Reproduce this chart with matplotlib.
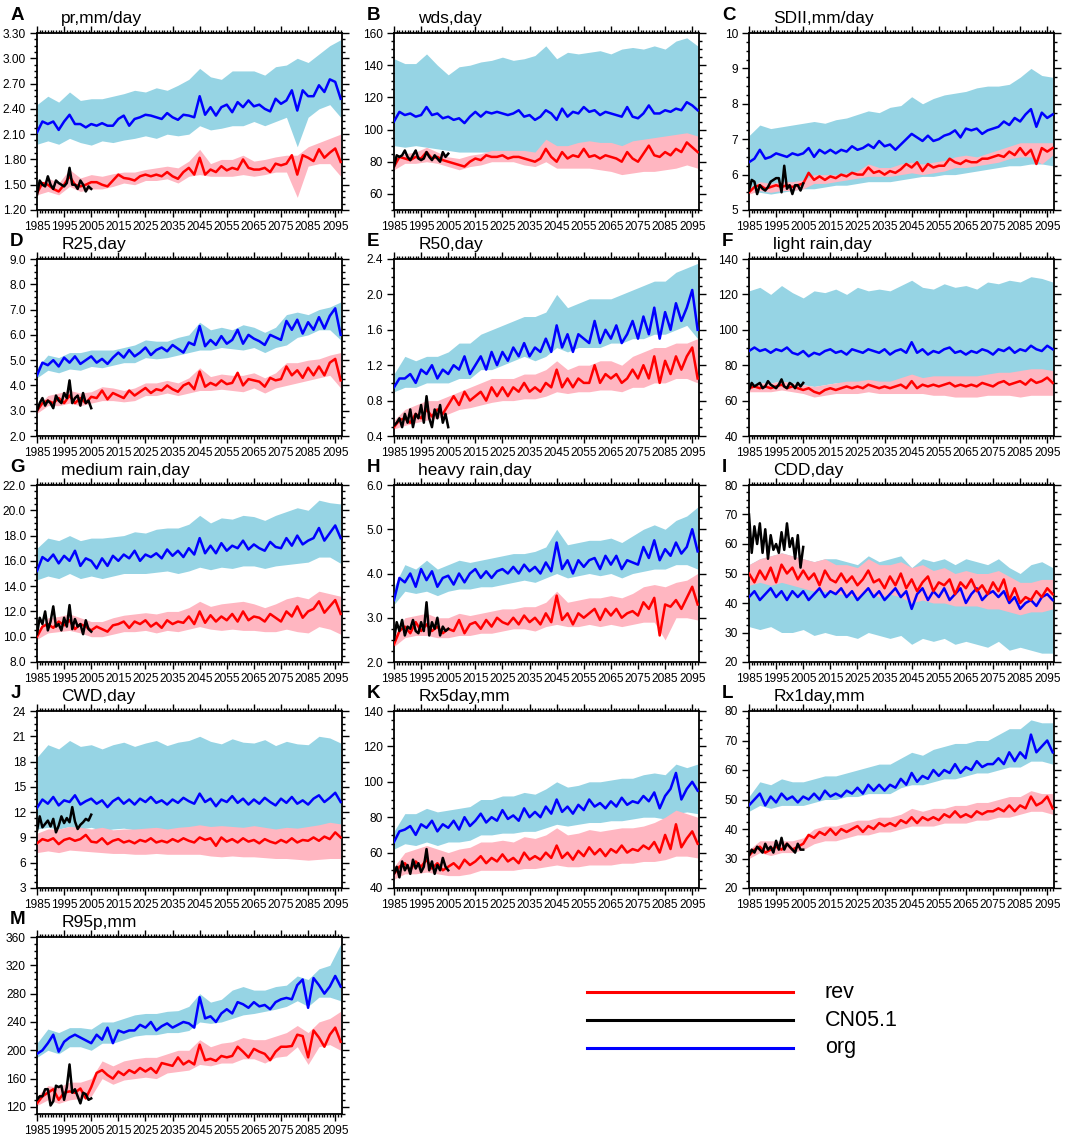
import numpy as np
import matplotlib
matplotlib.use('Agg')
import matplotlib.pyplot as plt
from matplotlib.ticker import MultipleLocator, AutoMinorLocator, FormatStrFormatter
from matplotlib.lines import Line2D

plt.rcParams['font.family'] = ['Liberation Sans', 'DejaVu Sans']

# model lines every 2 years, model spread every 4 years, CN05.1 yearly
YEARS_LINE = list(range(1985, 2098, 2))
YEARS_BAND = list(range(1985, 2098, 4))
YEARS_OBS = list(range(1985, 2006))

# ---- A: pr, mm/day
a_org = [2.12, 2.25, 2.22, 2.25, 2.15, 2.25, 2.33, 2.22, 2.22, 2.18,
         2.22, 2.20, 2.23, 2.20, 2.20, 2.28, 2.32, 2.20, 2.28, 2.30,
         2.33, 2.32, 2.30, 2.28, 2.35, 2.30, 2.27, 2.33, 2.32, 2.30,
         2.55, 2.33, 2.42, 2.32, 2.42, 2.45, 2.36, 2.48, 2.42, 2.50,
         2.43, 2.45, 2.40, 2.37, 2.52, 2.46, 2.50, 2.62, 2.38, 2.62,
         2.55, 2.55, 2.68, 2.60, 2.75, 2.72, 2.52]
a_org_hi = [2.45, 2.55, 2.48, 2.60, 2.50, 2.52, 2.52, 2.55, 2.58, 2.62,
            2.60, 2.65, 2.62, 2.68, 2.75, 2.88, 2.78, 2.75, 2.85, 2.85,
            2.85, 2.80, 2.90, 2.92, 3.00, 2.95, 3.05, 3.15, 3.22]
a_org_lo = [1.98, 2.02, 1.98, 2.05, 2.00, 1.97, 2.02, 2.00, 2.03, 2.05,
            2.08, 2.05, 2.10, 2.08, 2.10, 2.20, 2.15, 2.17, 2.20, 2.20,
            2.25, 2.20, 2.25, 2.30, 1.95, 2.30, 2.40, 2.45, 2.30]
a_rev = [1.40, 1.52, 1.50, 1.45, 1.42, 1.50, 1.60, 1.50, 1.48, 1.50,
         1.53, 1.53, 1.50, 1.48, 1.55, 1.62, 1.58, 1.57, 1.55, 1.60,
         1.62, 1.60, 1.62, 1.60, 1.65, 1.60, 1.57, 1.65, 1.70, 1.62,
         1.82, 1.62, 1.68, 1.65, 1.72, 1.67, 1.70, 1.68, 1.80, 1.70,
         1.68, 1.68, 1.70, 1.65, 1.75, 1.73, 1.75, 1.85, 1.62, 1.85,
         1.82, 1.78, 1.92, 1.82, 1.88, 1.93, 1.77]
a_rev_hi = [1.48, 1.58, 1.52, 1.68, 1.58, 1.62, 1.60, 1.63, 1.65, 1.65,
            1.68, 1.70, 1.72, 1.70, 1.78, 1.92, 1.75, 1.80, 1.80, 1.85,
            1.78, 1.80, 1.83, 1.85, 1.85, 1.95, 2.00, 2.05, 2.10]
a_rev_lo = [1.38, 1.42, 1.38, 1.48, 1.42, 1.45, 1.45, 1.48, 1.52, 1.50,
            1.55, 1.55, 1.57, 1.52, 1.60, 1.62, 1.60, 1.60, 1.60, 1.62,
            1.60, 1.62, 1.65, 1.65, 1.35, 1.72, 1.75, 1.75, 1.60]
a_obs = [1.38, 1.55, 1.50, 1.48, 1.60, 1.50, 1.45, 1.55, 1.52, 1.50,
         1.48, 1.52, 1.70, 1.50, 1.50, 1.45, 1.55, 1.50, 1.42, 1.48, 1.45]

# ---- B: wds, day
b_org = [105, 111, 109, 110, 108, 109, 114, 109, 110, 107,
         108, 106, 107, 104, 108, 111, 108, 111, 110, 111,
         110, 109, 110, 112, 108, 109, 106, 108, 112, 110,
         106, 113, 108, 111, 110, 114, 111, 112, 109, 111,
         110, 109, 108, 114, 108, 107, 110, 115, 110, 110,
         112, 111, 113, 112, 117, 115, 112]
b_org_hi = [144, 141, 141, 147, 140, 134, 139, 140, 142, 143,
            145, 143, 144, 146, 152, 144, 148, 147, 148, 149,
            147, 150, 151, 150, 152, 150, 155, 157, 152]
b_org_lo = [90, 89, 90, 89, 88, 87, 86, 86, 86, 86,
            86, 85, 86, 85, 86, 85, 86, 85, 86, 85,
            85, 86, 85, 86, 85, 86, 86, 86, 86]
b_rev = [77, 83, 82, 81, 83, 82, 86, 82, 83, 81,
         80, 79, 78, 77, 80, 82, 81, 84, 83, 83,
         84, 82, 83, 83, 82, 81, 80, 82, 88, 83,
         80, 86, 82, 84, 83, 88, 83, 84, 82, 84,
         83, 82, 80, 86, 82, 80, 85, 90, 84, 83,
         86, 84, 88, 86, 92, 89, 86]
b_rev_hi = [81, 85, 86, 89, 86, 83, 82, 84, 85, 87,
            87, 87, 87, 86, 94, 90, 90, 92, 93, 92,
            92, 90, 93, 94, 95, 96, 97, 98, 96]
b_rev_lo = [75, 79, 79, 80, 79, 77, 75, 77, 78, 80,
            80, 80, 78, 77, 80, 76, 76, 76, 76, 75,
            74, 72, 73, 74, 74, 75, 76, 78, 76]
b_obs = [77, 84, 83, 84, 87, 83, 81, 84, 87, 82,
         81, 82, 86, 83, 81, 84, 82, 80, 86, 83, 85]

# ---- C: SDII, mm/day
c_org = [6.35, 6.45, 6.70, 6.45, 6.50, 6.60, 6.55, 6.50, 6.60, 6.55,
         6.60, 6.75, 6.50, 6.70, 6.60, 6.70, 6.60, 6.70, 6.65, 6.80,
         6.70, 6.75, 6.85, 6.75, 6.95, 6.80, 6.85, 6.70, 6.85, 7.00,
         7.15, 7.05, 6.95, 7.10, 6.95, 7.00, 7.10, 7.15, 7.25, 7.05,
         7.30, 7.25, 7.30, 7.15, 7.25, 7.30, 7.35, 7.50, 7.40, 7.60,
         7.50, 7.70, 7.85, 7.35, 7.75, 7.60, 7.70]
c_org_hi = [7.10, 7.40, 7.30, 7.35, 7.40, 7.45, 7.50, 7.45, 7.55, 7.60,
            7.70, 7.80, 7.75, 7.90, 7.95, 8.20, 8.00, 8.15, 8.25, 8.30,
            8.35, 8.45, 8.50, 8.50, 8.55, 8.75, 9.00, 8.80, 8.75]
c_org_lo = [5.50, 5.50, 5.45, 5.50, 5.55, 5.60, 5.60, 5.65, 5.70, 5.70,
            5.75, 5.80, 5.80, 5.80, 5.85, 5.90, 5.95, 5.95, 6.00, 6.00,
            6.05, 6.10, 6.15, 6.20, 6.25, 6.25, 6.30, 6.30, 6.25]
c_rev = [5.50, 5.65, 5.70, 5.60, 5.65, 5.70, 5.65, 5.70, 5.65, 5.70,
         5.75, 6.05, 5.85, 5.95, 5.85, 5.95, 5.90, 6.00, 5.95, 6.05,
         6.00, 6.00, 6.20, 6.05, 6.10, 6.00, 6.10, 6.05, 6.15, 6.30,
         6.20, 6.35, 6.10, 6.30, 6.20, 6.25, 6.25, 6.45, 6.35, 6.30,
         6.40, 6.35, 6.35, 6.45, 6.45, 6.50, 6.55, 6.50, 6.65, 6.55,
         6.75, 6.55, 6.70, 6.30, 6.75, 6.65, 6.75]
c_rev_hi = [5.60, 5.80, 5.75, 5.80, 5.80, 5.85, 6.00, 6.00, 6.00, 6.05,
            6.10, 6.30, 6.20, 6.20, 6.30, 6.35, 6.30, 6.35, 6.40, 6.50,
            6.55, 6.50, 6.60, 6.70, 6.80, 6.90, 6.90, 6.90, 6.90]
c_rev_lo = [5.45, 5.55, 5.50, 5.55, 5.55, 5.60, 5.75, 5.75, 5.80, 5.85,
            5.90, 5.95, 5.95, 5.95, 6.00, 6.05, 6.00, 6.05, 6.10, 6.20,
            6.20, 6.25, 6.30, 6.35, 6.45, 6.50, 6.50, 6.30, 6.55]
c_obs = [5.55, 5.85, 5.80, 5.45, 5.70, 5.60, 5.55, 5.65, 5.80, 5.85,
         5.90, 5.90, 5.50, 6.25, 5.60, 5.70, 5.45, 5.70, 5.70, 5.55, 5.75]

# ---- D: R25, day
d_org = [4.40, 4.90, 4.80, 5.00, 4.75, 5.10, 4.90, 5.15, 4.85, 5.00,
         5.15, 4.90, 5.05, 4.85, 5.10, 5.30, 5.10, 5.40, 5.15, 5.30,
         5.50, 5.20, 5.40, 5.50, 5.35, 5.60, 5.45, 5.30, 5.70, 5.60,
         6.35, 5.55, 5.80, 5.60, 5.95, 5.65, 5.80, 6.20, 5.65, 6.00,
         5.85, 5.75, 5.60, 6.00, 5.90, 5.80, 6.55, 6.20, 6.60, 6.05,
         6.50, 6.20, 6.70, 6.25, 6.75, 7.05, 6.00]
d_org_hi = [4.70, 5.20, 5.10, 5.30, 5.30, 5.40, 5.40, 5.40, 5.50, 5.60,
            5.80, 5.75, 5.75, 5.90, 6.00, 6.50, 6.20, 6.30, 6.20, 6.40,
            6.30, 6.10, 6.30, 6.80, 6.90, 6.80, 7.00, 7.10, 7.30]
d_org_lo = [4.30, 4.60, 4.50, 4.65, 4.60, 4.75, 4.70, 4.80, 4.90, 4.90,
            5.10, 5.05, 5.10, 5.20, 5.30, 5.40, 5.40, 5.50, 5.45, 5.40,
            5.50, 5.30, 5.50, 5.60, 5.90, 6.00, 6.20, 6.20, 5.80]
d_rev = [3.00, 3.30, 3.40, 3.30, 3.50, 3.30, 3.60, 3.30, 3.50, 3.30,
         3.55, 3.50, 3.80, 3.45, 3.70, 3.60, 3.50, 3.80, 3.60, 3.75,
         3.90, 3.70, 3.85, 3.80, 4.00, 3.85, 3.75, 4.00, 4.10, 3.85,
         4.55, 3.95, 4.10, 4.00, 4.20, 4.05, 4.10, 4.50, 4.00, 4.25,
         4.20, 4.15, 3.95, 4.30, 4.20, 4.25, 4.75, 4.40, 4.60, 4.30,
         4.70, 4.40, 4.75, 4.40, 4.90, 5.05, 4.20]
d_rev_hi = [3.15, 3.60, 3.70, 3.80, 3.70, 3.75, 3.95, 3.90, 3.80, 3.90,
            4.10, 4.10, 4.20, 4.10, 4.30, 4.70, 4.35, 4.45, 4.40, 4.40,
            4.50, 4.30, 4.50, 4.90, 4.90, 5.00, 5.05, 5.20, 5.30]
d_rev_lo = [2.90, 3.20, 3.20, 3.30, 3.20, 3.30, 3.40, 3.40, 3.35, 3.40,
            3.60, 3.60, 3.70, 3.60, 3.70, 3.80, 3.80, 3.85, 3.80, 3.75,
            3.90, 3.70, 3.90, 4.00, 4.10, 4.20, 4.30, 4.40, 3.90]
d_obs = [3.00, 3.30, 3.50, 3.20, 3.40, 3.30, 3.10, 3.60, 3.40, 3.30,
         3.70, 3.50, 4.20, 3.30, 3.50, 3.60, 3.20, 3.70, 3.30, 3.40, 3.10]

# ---- E: R50, day
e_org = [0.95, 1.05, 1.05, 1.10, 1.00, 1.15, 1.10, 1.20, 1.05, 1.15,
         1.10, 1.20, 1.15, 1.30, 1.10, 1.20, 1.30, 1.15, 1.35, 1.20,
         1.35, 1.25, 1.40, 1.30, 1.45, 1.30, 1.40, 1.35, 1.50, 1.35,
         1.65, 1.40, 1.55, 1.35, 1.55, 1.50, 1.45, 1.70, 1.45, 1.60,
         1.50, 1.65, 1.45, 1.55, 1.70, 1.50, 1.75, 1.55, 1.85, 1.50,
         1.80, 1.60, 1.90, 1.70, 1.85, 2.05, 1.60]
e_org_hi = [1.10, 1.30, 1.25, 1.30, 1.30, 1.35, 1.45, 1.45, 1.55, 1.60,
            1.65, 1.70, 1.75, 1.75, 1.80, 2.00, 1.85, 1.90, 1.95, 1.95,
            1.95, 2.00, 2.05, 2.10, 2.15, 2.15, 2.25, 2.30, 2.35]
e_org_lo = [0.90, 0.95, 0.95, 1.00, 1.00, 1.00, 1.05, 1.05, 1.15, 1.15,
            1.20, 1.25, 1.30, 1.25, 1.30, 1.40, 1.35, 1.40, 1.40, 1.40,
            1.45, 1.45, 1.50, 1.50, 1.55, 1.55, 1.60, 1.65, 1.50]
e_rev = [0.50, 0.58, 0.60, 0.55, 0.65, 0.60, 0.70, 0.62, 0.70, 0.65,
         0.75, 0.85, 0.75, 0.90, 0.80, 0.85, 0.90, 0.80, 0.95, 0.85,
         0.95, 0.85, 0.95, 0.90, 1.00, 0.90, 0.95, 0.90, 1.00, 0.95,
         1.15, 0.95, 1.05, 0.95, 1.05, 1.00, 1.00, 1.20, 1.00, 1.10,
         1.05, 1.10, 1.00, 1.05, 1.15, 1.05, 1.20, 1.05, 1.30, 1.00,
         1.25, 1.10, 1.30, 1.15, 1.30, 1.40, 1.05]
e_rev_hi = [0.58, 0.70, 0.75, 0.80, 0.80, 0.85, 0.90, 0.95, 1.00, 1.05,
            1.05, 1.05, 1.10, 1.10, 1.15, 1.25, 1.15, 1.20, 1.20, 1.25,
            1.25, 1.20, 1.30, 1.35, 1.40, 1.40, 1.45, 1.45, 1.50]
e_rev_lo = [0.48, 0.52, 0.55, 0.58, 0.60, 0.65, 0.70, 0.72, 0.75, 0.78,
            0.80, 0.80, 0.82, 0.82, 0.85, 0.90, 0.88, 0.90, 0.90, 0.92,
            0.92, 0.90, 0.95, 0.95, 1.00, 1.00, 1.05, 1.05, 1.00]
e_obs = [0.52, 0.55, 0.60, 0.50, 0.65, 0.55, 0.70, 0.50, 0.65, 0.60,
         0.75, 0.55, 0.85, 0.60, 0.50, 0.70, 0.60, 0.75, 0.55, 0.65, 0.50]

# ---- F: light rain, day
f_org = [88, 90, 88, 89, 87, 89, 88, 90, 87, 86,
         88, 85, 87, 86, 88, 89, 87, 88, 86, 89,
         88, 87, 89, 88, 87, 89, 86, 88, 89, 87,
         93, 87, 89, 86, 88, 87, 89, 90, 87, 88,
         86, 88, 87, 89, 88, 86, 89, 88, 90, 87,
         89, 88, 91, 89, 88, 91, 89]
f_org_hi = [122, 124, 120, 125, 121, 118, 122, 121, 123, 120,
            124, 122, 123, 122, 125, 128, 124, 123, 126, 124,
            125, 123, 127, 126, 128, 127, 130, 129, 127]
f_org_lo = [68, 70, 70, 71, 70, 69, 68, 69, 70, 69,
            70, 70, 69, 70, 70, 70, 70, 69, 70, 70,
            71, 70, 71, 72, 72, 72, 73, 73, 72]
f_rev = [67, 68, 67, 68, 67, 68, 69, 67, 68, 67,
         66, 67, 65, 64, 66, 67, 66, 67, 68, 67,
         68, 67, 69, 68, 67, 68, 67, 68, 69, 67,
         71, 67, 69, 68, 69, 68, 69, 70, 68, 69,
         68, 69, 68, 70, 69, 68, 70, 71, 69, 70,
         71, 69, 72, 70, 71, 73, 70]
f_rev_hi = [69, 70, 70, 71, 70, 69, 68, 69, 70, 71,
            71, 72, 71, 71, 73, 75, 73, 74, 74, 74,
            74, 74, 75, 76, 76, 77, 78, 78, 77]
f_rev_lo = [65, 65, 65, 66, 65, 64, 62, 63, 64, 64,
            64, 65, 64, 64, 64, 64, 64, 63, 63, 62,
            62, 62, 63, 63, 63, 62, 63, 63, 63]
f_obs = [66, 70, 68, 69, 70, 67, 68, 71, 69, 68,
         67, 69, 72, 68, 67, 70, 69, 67, 70, 68, 70]

# ---- G: medium rain, day
g_org = [15.2, 16.3, 16.0, 16.5, 15.8, 16.4, 16.0, 16.8, 15.6, 16.2,
         16.0, 15.4, 16.2, 15.6, 16.4, 16.0, 16.5, 16.2, 16.8, 16.0,
         16.5, 16.3, 16.6, 16.2, 16.9, 16.4, 16.8, 16.3, 17.0, 16.5,
         17.8, 16.6, 17.2, 16.6, 17.4, 16.8, 17.2, 17.0, 17.6, 16.9,
         17.3, 17.0, 16.8, 17.5, 17.1, 17.0, 17.8, 17.2, 18.0, 17.3,
         17.6, 17.8, 18.6, 17.6, 18.2, 18.8, 17.8]
g_org_hi = [17.0, 17.8, 17.6, 18.0, 17.6, 17.8, 17.8, 17.9, 18.0, 18.3,
            18.2, 18.5, 18.6, 18.6, 18.9, 19.6, 19.0, 19.4, 19.3, 19.6,
            19.5, 19.2, 19.6, 19.9, 20.2, 20.0, 20.8, 20.6, 20.5]
g_org_lo = [14.5, 14.8, 14.6, 15.0, 14.6, 14.8, 14.6, 14.8, 15.0, 15.0,
            15.0, 15.1, 15.2, 15.0, 15.2, 15.5, 15.3, 15.5, 15.4, 15.6,
            15.6, 15.4, 15.6, 15.7, 15.8, 15.9, 16.3, 16.3, 15.8]
g_rev = [10.0, 10.8, 11.0, 10.7, 11.2, 10.9, 11.3, 10.6, 11.0, 10.8,
         10.5, 10.8, 10.6, 10.4, 10.9, 11.0, 11.2, 10.7, 11.2, 11.0,
         11.3, 10.8, 11.1, 10.7, 11.3, 11.0, 11.2, 11.1, 11.6, 11.0,
         12.0, 11.1, 11.7, 11.2, 11.6, 11.3, 11.8, 11.2, 12.0, 11.3,
         11.6, 11.5, 11.2, 11.8, 11.5, 11.2, 12.0, 11.6, 12.4, 11.5,
         12.0, 12.2, 12.8, 11.9, 12.4, 12.9, 11.8]
g_rev_hi = [10.4, 11.5, 11.6, 11.8, 11.5, 11.2, 11.2, 11.5, 11.7, 11.8,
            11.9, 11.8, 12.0, 12.0, 12.3, 12.8, 12.4, 12.6, 12.7, 12.8,
            12.6, 12.3, 12.6, 13.0, 13.2, 13.0, 13.6, 13.4, 13.2]
g_rev_lo = [9.8, 10.3, 10.4, 10.5, 10.3, 10.0, 10.0, 10.2, 10.4, 10.4,
            10.5, 10.3, 10.5, 10.4, 10.6, 10.8, 10.6, 10.5, 10.6, 10.5,
            10.5, 10.4, 10.4, 10.6, 10.4, 10.3, 10.8, 10.6, 10.2]
g_obs = [10.2, 11.5, 11.0, 12.0, 10.5, 11.2, 12.4, 10.8, 11.0, 10.5,
         11.5, 10.8, 12.5, 10.6, 11.4, 10.8, 11.0, 10.2, 11.3, 10.6, 10.4]

# ---- H: heavy rain, day
h_org = [3.40, 3.90, 3.80, 4.00, 3.70, 4.10, 3.85, 4.05, 3.70, 3.90,
         3.95, 3.75, 4.00, 3.80, 4.00, 4.10, 3.90, 4.05, 3.90, 4.05,
         4.10, 4.00, 4.15, 4.00, 4.20, 4.05, 4.15, 4.00, 4.25, 4.05,
         4.70, 4.10, 4.30, 4.00, 4.30, 4.15, 4.30, 4.35, 4.10, 4.40,
         4.20, 4.40, 4.10, 4.30, 4.25, 4.20, 4.60, 4.35, 4.75, 4.30,
         4.55, 4.40, 4.70, 4.45, 4.60, 5.00, 4.50]
h_org_hi = [3.70, 4.20, 4.10, 4.30, 4.10, 4.20, 4.30, 4.25, 4.30, 4.35,
            4.40, 4.45, 4.45, 4.50, 4.60, 5.00, 4.65, 4.70, 4.75, 4.75,
            4.80, 4.70, 4.85, 5.00, 5.10, 5.00, 5.20, 5.30, 5.50]
h_org_lo = [3.30, 3.60, 3.55, 3.60, 3.50, 3.60, 3.65, 3.65, 3.70, 3.70,
            3.75, 3.80, 3.85, 3.80, 3.90, 4.00, 3.90, 3.95, 4.00, 3.95,
            4.00, 3.90, 4.00, 4.05, 4.10, 4.10, 4.20, 4.20, 4.10]
h_rev = [2.40, 2.70, 2.80, 2.65, 2.90, 2.70, 2.85, 2.70, 2.80, 2.65,
         2.75, 2.70, 2.95, 2.65, 2.85, 2.90, 2.75, 2.95, 2.80, 3.00,
         2.90, 2.85, 3.00, 2.85, 3.05, 2.90, 3.00, 2.85, 3.10, 2.90,
         3.50, 2.95, 3.10, 2.85, 3.10, 3.00, 3.10, 3.20, 2.95, 3.20,
         3.05, 3.20, 3.00, 3.10, 3.15, 3.05, 3.35, 3.20, 3.45, 2.60,
         3.30, 3.25, 3.40, 3.20, 3.45, 3.70, 3.30]
h_rev_hi = [2.55, 3.00, 3.05, 3.10, 3.00, 3.00, 3.10, 3.05, 3.10, 3.15,
            3.20, 3.20, 3.25, 3.25, 3.35, 3.60, 3.35, 3.40, 3.45, 3.45,
            3.50, 3.45, 3.55, 3.70, 3.75, 3.70, 3.80, 3.85, 4.00]
h_rev_lo = [2.35, 2.55, 2.60, 2.60, 2.55, 2.55, 2.60, 2.60, 2.65, 2.65,
            2.70, 2.75, 2.75, 2.70, 2.80, 2.85, 2.80, 2.80, 2.85, 2.80,
            2.85, 2.80, 2.85, 2.90, 2.90, 2.50, 3.00, 3.00, 2.95]
h_obs = [2.50, 2.90, 2.70, 2.95, 2.60, 2.80, 2.75, 2.95, 2.70, 2.65,
         2.90, 2.70, 3.35, 2.60, 2.90, 2.75, 3.00, 2.60, 2.80, 2.70, 2.75]

# ---- I: CDD, day
i_org = [42, 44, 41, 43, 45, 42, 44, 41, 44, 42,
         44, 41, 43, 45, 42, 44, 43, 45, 42, 44,
         41, 43, 45, 42, 44, 41, 43, 45, 42, 44,
         38, 43, 45, 41, 44, 42, 45, 41, 43, 45,
         40, 43, 45, 41, 43, 44, 42, 44, 40, 42,
         38, 40, 41, 39, 42, 43, 41]
i_org_hi = [53, 55, 56, 57, 56, 55, 54, 55, 55, 54,
            53, 56, 54, 55, 56, 52, 55, 54, 55, 53,
            55, 54, 53, 55, 52, 50, 53, 54, 52]
i_org_lo = [32, 31, 32, 30, 30, 31, 29, 30, 29, 29,
            28, 30, 29, 28, 29, 26, 28, 27, 28, 26,
            27, 26, 25, 27, 24, 25, 24, 23, 23]
i_rev = [50, 47, 51, 48, 52, 47, 53, 50, 52, 48,
         51, 48, 50, 46, 51, 48, 47, 50, 47, 49,
         46, 48, 51, 47, 48, 45, 49, 46, 50, 45,
         48, 44, 47, 49, 44, 47, 46, 48, 43, 47,
         45, 48, 44, 46, 43, 47, 44, 48, 41, 45,
         40, 42, 41, 44, 42, 45, 43]
i_rev_hi = [53, 55, 56, 57, 56, 55, 54, 55, 53, 53,
            52, 55, 53, 53, 54, 52, 53, 51, 52, 50,
            51, 50, 50, 51, 49, 47, 47, 48, 48]
i_rev_lo = [46, 47, 46, 47, 46, 45, 44, 44, 43, 43,
            42, 44, 42, 43, 42, 40, 41, 40, 40, 39,
            39, 39, 38, 38, 37, 36, 37, 37, 38]
i_obs = [70, 57, 66, 60, 67, 57, 65, 55, 63, 58,
         60, 57, 64, 58, 67, 59, 62, 55, 63, 52, 59]

# ---- J: CWD, day
j_org = [12.5, 13.5, 13.0, 13.8, 12.8, 13.4, 13.2, 14.0, 12.9, 13.3,
         13.6, 13.0, 13.4, 12.6, 13.3, 13.7, 13.0, 13.5, 12.9, 13.6,
         13.2, 13.8, 13.1, 13.4, 12.9, 13.5, 13.1, 13.7, 13.3, 13.0,
         14.2, 13.2, 13.6, 12.7, 13.5, 13.2, 13.9, 13.1, 13.6, 12.9,
         13.5, 13.0, 13.7, 13.2, 12.8, 13.6, 13.1, 13.8, 13.0, 13.4,
         12.9, 13.6, 14.0, 13.2, 13.7, 14.3, 13.2]
j_org_hi = [18.5, 20.0, 19.5, 20.5, 19.8, 20.0, 19.5, 20.0, 20.3, 19.8,
            20.2, 20.5, 19.9, 20.3, 20.5, 21.0, 20.4, 20.1, 20.7, 20.3,
            20.2, 20.6, 19.9, 20.4, 20.1, 20.0, 21.0, 20.8, 20.2]
j_org_lo = [10.0, 10.2, 10.0, 10.3, 10.0, 10.2, 9.8, 10.0, 10.1, 9.9,
            10.0, 10.1, 9.9, 10.0, 10.1, 10.3, 10.0, 9.8, 10.1, 9.9,
            10.0, 10.0, 9.7, 9.9, 9.8, 9.9, 10.2, 10.1, 10.0]
j_rev = [8.3, 8.8, 8.6, 8.9, 8.2, 8.7, 8.9, 8.6, 8.8, 9.3,
         8.5, 8.4, 8.9, 8.2, 8.6, 8.8, 8.4, 8.6, 8.3, 8.7,
         8.5, 8.9, 8.4, 8.6, 8.4, 8.8, 8.5, 8.9, 8.6, 8.4,
         9.0, 8.7, 8.9, 8.0, 9.0, 8.5, 8.8, 8.4, 8.9, 8.5,
         8.7, 8.3, 8.8, 8.5, 8.3, 8.7, 8.4, 8.9, 8.4, 8.7,
         8.6, 9.0, 8.6, 9.1, 8.8, 9.6, 9.0]
j_rev_hi = [9.5, 10.0, 10.0, 10.3, 10.2, 10.0, 10.2, 9.9, 10.0, 10.0,
            10.1, 10.2, 10.0, 10.2, 10.3, 10.5, 10.3, 10.4, 10.3, 10.2,
            10.4, 10.2, 10.0, 10.2, 10.1, 10.3, 10.5, 10.8, 10.6]
j_rev_lo = [7.2, 7.4, 7.2, 7.5, 7.4, 7.3, 7.2, 7.1, 7.1, 7.0,
            7.0, 7.1, 7.0, 7.0, 7.0, 7.0, 6.8, 6.7, 6.8, 6.7,
            6.7, 6.6, 6.5, 6.5, 6.4, 6.3, 6.4, 6.5, 6.5]
j_obs = [9.8, 11.5, 10.2, 10.6, 11.0, 10.3, 11.2, 9.6, 10.4, 11.5,
         10.7, 11.3, 10.8, 12.6, 10.9, 10.0, 10.5, 10.8, 11.2, 11.0, 11.7]

# ---- K: Rx5day, mm
k_org = [66, 72, 73, 75, 70, 76, 74, 78, 72, 76,
         74, 78, 73, 80, 75, 78, 82, 77, 80, 78,
         84, 79, 81, 78, 85, 80, 83, 80, 86, 82,
         90, 83, 86, 82, 87, 84, 90, 86, 88, 85,
         89, 86, 91, 87, 89, 88, 92, 89, 94, 85,
         92, 96, 105, 90, 96, 100, 95]
k_org_hi = [72, 82, 82, 85, 83, 84, 85, 86, 90, 90,
            92, 92, 94, 93, 96, 100, 97, 98, 100, 100,
            101, 102, 102, 104, 105, 104, 110, 108, 110]
k_org_lo = [62, 65, 64, 66, 64, 66, 66, 67, 70, 70,
            71, 71, 72, 72, 74, 76, 75, 76, 77, 77,
            78, 78, 79, 80, 80, 79, 82, 83, 82]
k_rev = [48, 52, 54, 50, 55, 52, 56, 51, 54, 50,
         52, 54, 51, 56, 53, 55, 58, 54, 57, 55,
         59, 55, 57, 54, 60, 56, 58, 56, 60, 57,
         64, 57, 60, 56, 61, 58, 63, 59, 62, 58,
         62, 60, 64, 60, 62, 61, 64, 62, 66, 60,
         70, 62, 76, 63, 68, 72, 65]
k_rev_hi = [52, 60, 62, 64, 62, 60, 62, 63, 66, 66,
            67, 66, 69, 68, 70, 74, 70, 71, 73, 72,
            73, 74, 74, 75, 77, 80, 84, 82, 80]
k_rev_lo = [45, 48, 48, 49, 48, 47, 47, 48, 50, 50,
            50, 50, 51, 51, 52, 53, 52, 52, 53, 53,
            53, 54, 54, 55, 55, 56, 58, 58, 57]
k_obs = [48, 52, 46, 55, 50, 53, 48, 56, 51, 54,
         49, 52, 62, 50, 55, 48, 53, 50, 57, 52, 50]

# ---- L: Rx1day, mm
l_org = [48, 50, 52, 48, 51, 49, 52, 50, 51, 49,
         51, 50, 52, 50, 53, 51, 52, 51, 53, 52,
         54, 52, 55, 53, 55, 53, 55, 54, 57, 55,
         59, 56, 58, 57, 60, 58, 60, 59, 62, 59,
         61, 60, 63, 61, 62, 62, 64, 62, 66, 63,
         66, 64, 72, 66, 68, 70, 66]
l_org_hi = [51, 56, 55, 57, 56, 56, 57, 58, 58, 59,
            60, 61, 62, 62, 64, 66, 65, 67, 68, 69,
            69, 70, 70, 72, 74, 74, 77, 76, 76]
l_org_lo = [46, 48, 47, 48, 48, 48, 49, 50, 50, 51,
            51, 52, 52, 52, 54, 55, 55, 56, 57, 57,
            58, 59, 59, 60, 61, 61, 63, 63, 62]
l_rev = [31, 33, 34, 32, 33, 34, 33, 35, 33, 34,
         35, 38, 37, 39, 38, 40, 38, 40, 39, 40,
         41, 39, 41, 40, 42, 41, 42, 41, 43, 42,
         44, 42, 44, 43, 44, 43, 45, 44, 46, 44,
         45, 44, 46, 45, 46, 46, 47, 46, 48, 46,
         48, 47, 51, 48, 49, 51, 47]
l_rev_hi = [33, 36, 36, 36, 36, 37, 40, 41, 41, 42,
            43, 43, 44, 44, 45, 47, 46, 47, 47, 48,
            48, 49, 49, 50, 51, 51, 53, 52, 52]
l_rev_lo = [30, 32, 31, 32, 32, 33, 35, 36, 36, 37,
            38, 38, 39, 39, 40, 41, 41, 41, 42, 42,
            42, 43, 43, 44, 44, 45, 46, 46, 45]
l_obs = [31, 33, 32, 34, 33, 32, 35, 33, 34, 32,
         36, 33, 37, 33, 35, 34, 33, 32, 35, 33, 33]

# ---- M: R95p, mm
m_org = [195, 200, 210, 222, 198, 212, 218, 222, 218, 214,
         210, 222, 215, 232, 210, 228, 225, 228, 228, 236,
         232, 240, 228, 234, 238, 232, 236, 240, 238, 232,
         275, 245, 248, 240, 252, 258, 252, 268, 265, 260,
         268, 262, 264, 258, 268, 272, 274, 272, 292, 300,
         260, 302, 292, 280, 290, 305, 290]
m_org_hi = [210, 230, 225, 232, 232, 230, 240, 240, 245, 250,
            252, 252, 255, 256, 262, 280, 268, 272, 285, 290,
            285, 285, 290, 292, 305, 300, 315, 320, 350]
m_org_lo = [190, 200, 195, 205, 205, 200, 210, 210, 215, 220,
            222, 222, 225, 225, 228, 240, 238, 240, 245, 250,
            252, 255, 258, 262, 270, 262, 275, 275, 270]
m_rev = [125, 135, 140, 145, 130, 140, 142, 140, 146, 132,
         148, 168, 172, 165, 160, 170, 165, 172, 168, 175,
         170, 175, 168, 182, 180, 178, 190, 180, 185, 180,
         208, 186, 188, 185, 192, 190, 192, 205, 198, 190,
         202, 198, 195, 186, 198, 205, 205, 206, 222, 220,
         190, 228, 218, 205, 222, 232, 212]
m_rev_hi = [135, 150, 148, 155, 155, 160, 185, 178, 185, 188,
            190, 190, 195, 200, 200, 215, 205, 210, 212, 218,
            215, 215, 220, 225, 235, 225, 240, 245, 255]
m_rev_lo = [122, 130, 125, 130, 132, 135, 160, 152, 158, 160,
            162, 160, 168, 170, 172, 180, 178, 182, 182, 188,
            188, 182, 190, 192, 205, 180, 205, 208, 200]
m_obs = [130, 135, 135, 145, 145, 122, 128, 150, 148, 150,
         130, 148, 180, 140, 145, 135, 125, 140, 138, 130, 132]

LETTERS = list('ABCDEFGHIJKLM')
TITLES = ['pr,mm/day', 'wds,day', 'SDII,mm/day', 'R25,day', 'R50,day',
          'light rain,day', 'medium rain,day', 'heavy rain,day', 'CDD,day',
          'CWD,day', 'Rx5day,mm', 'Rx1day,mm', 'R95p,mm']
Y_LIMITS = [(1.2, 3.3), (50, 160), (5, 10), (2, 9), (0.4, 2.4), (40, 140),
            (8, 22), (2, 6), (20, 80), (3, 24), (40, 140), (20, 80), (110, 360)]
Y_STEPS = [0.3, 20, 1, 1, 0.4, 20, 2, 1, 10, 3, 20, 10, 40]
Y_FMTS = ['%.2f', '%d', '%d', '%.1f', '%.1f', '%d', '%.1f', '%.1f', '%d',
          '%d', '%d', '%d', '%d']

SERIES = [
    (a_org, a_org_hi, a_org_lo, a_rev, a_rev_hi, a_rev_lo, a_obs),
    (b_org, b_org_hi, b_org_lo, b_rev, b_rev_hi, b_rev_lo, b_obs),
    (c_org, c_org_hi, c_org_lo, c_rev, c_rev_hi, c_rev_lo, c_obs),
    (d_org, d_org_hi, d_org_lo, d_rev, d_rev_hi, d_rev_lo, d_obs),
    (e_org, e_org_hi, e_org_lo, e_rev, e_rev_hi, e_rev_lo, e_obs),
    (f_org, f_org_hi, f_org_lo, f_rev, f_rev_hi, f_rev_lo, f_obs),
    (g_org, g_org_hi, g_org_lo, g_rev, g_rev_hi, g_rev_lo, g_obs),
    (h_org, h_org_hi, h_org_lo, h_rev, h_rev_hi, h_rev_lo, h_obs),
    (i_org, i_org_hi, i_org_lo, i_rev, i_rev_hi, i_rev_lo, i_obs),
    (j_org, j_org_hi, j_org_lo, j_rev, j_rev_hi, j_rev_lo, j_obs),
    (k_org, k_org_hi, k_org_lo, k_rev, k_rev_hi, k_rev_lo, k_obs),
    (l_org, l_org_hi, l_org_lo, l_rev, l_rev_hi, l_rev_lo, l_obs),
    (m_org, m_org_hi, m_org_lo, m_rev, m_rev_hi, m_rev_lo, m_obs),
]

FIG_W, FIG_H = 1065, 1140
COL_LEFT = [37, 394, 749]
ROW_TOP = [33, 259, 485, 711, 937]
AX_W, AX_H = 305, 177

BAND_ORG = '#96d4e4'
BAND_REV = '#ffb6c1'


def draw_panel(ax, idx):
    org, org_hi, org_lo, rev, rev_hi, rev_lo, obs = SERIES[idx]
    ax.fill_between(YEARS_BAND, org_lo, org_hi, color=BAND_ORG, lw=0, zorder=1)
    ax.fill_between(YEARS_BAND, rev_lo, rev_hi, color=BAND_REV, lw=0, zorder=2)
    ax.plot(YEARS_LINE, org, color='blue', lw=1.8, zorder=3)
    ax.plot(YEARS_LINE, rev, color='red', lw=1.8, zorder=4)
    ax.plot(YEARS_OBS, obs, color='black', lw=1.8, zorder=5)

    ax.set_xlim(1985, 2097.5)
    ax.set_ylim(*Y_LIMITS[idx])
    ax.xaxis.set_major_locator(MultipleLocator(10))
    ax.xaxis.set_minor_locator(MultipleLocator(1))
    ax.yaxis.set_major_locator(MultipleLocator(Y_STEPS[idx]))
    ax.yaxis.set_minor_locator(AutoMinorLocator(4))
    ax.yaxis.set_major_formatter(FormatStrFormatter(Y_FMTS[idx]))
    ax.set_xticks(range(1985, 2096, 10))
    ax.tick_params(which='both', direction='out', top=True, right=True,
                   width=1.0, labelsize=8.6, pad=3)
    ax.tick_params(which='major', length=5)
    ax.tick_params(which='minor', length=2.5)
    for sp in ax.spines.values():
        sp.set_linewidth(1.3)

    ax.text(0.08, 1.056, TITLES[idx], transform=ax.transAxes,
            fontsize=12.5, va='baseline', ha='left')
    ax.text(-0.088, 1.075, LETTERS[idx], transform=ax.transAxes,
            fontsize=13.5, fontweight='bold', va='baseline', ha='left')


def main():
    fig = plt.figure(figsize=(FIG_W / 100, FIG_H / 100), dpi=100)
    for idx in range(len(SERIES)):
        row, col = divmod(idx, 3)
        left = COL_LEFT[col] / FIG_W
        bottom = 1 - (ROW_TOP[row] + AX_H) / FIG_H
        ax = fig.add_axes([left, bottom, AX_W / FIG_W, AX_H / FIG_H])
        draw_panel(ax, idx)

    # legend drawn by hand like the original
    legend_rows = [('rev', 'red', 992), ('CN05.1', 'black', 1020),
                   ('org', 'blue', 1048)]
    for label, color, ypx in legend_rows:
        y = 1 - ypx / FIG_H
        fig.add_artist(Line2D([587 / FIG_W, 793 / FIG_W], [y, y],
                              color=color, lw=2.2))
        fig.text(825 / FIG_W, y, label, fontsize=15.5, va='center', ha='left')

    fig.savefig('out.png', dpi=100)


if __name__ == '__main__':
    main()
